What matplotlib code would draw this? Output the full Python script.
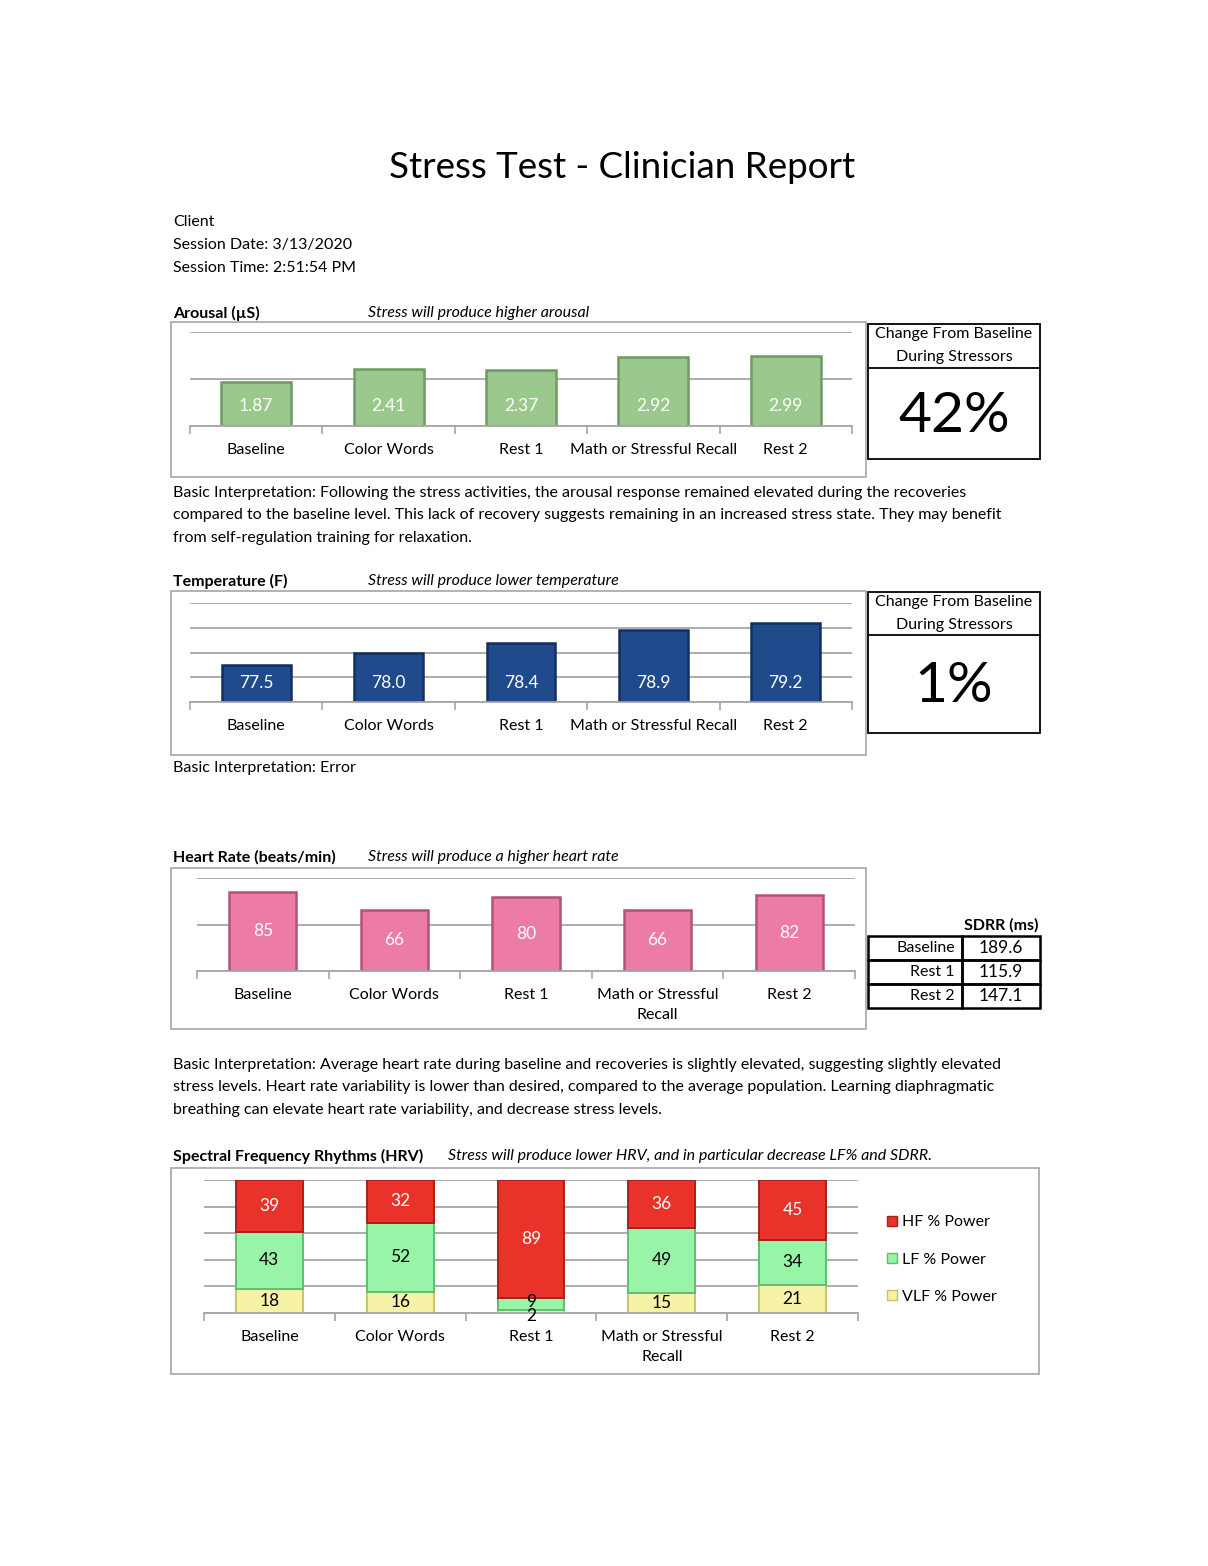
import matplotlib
matplotlib.use("Agg")
import matplotlib.pyplot as plt
from matplotlib.patches import Rectangle, Patch

plt.rcParams['font.family'] = ['Lato', 'DejaVu Sans']

W, H = 1208, 1566

# data
stages = ["Baseline", "Color Words", "Rest 1", "Math or Stressful Recall", "Rest 2"]
stages_wrapped = ["Baseline", "Color Words", "Rest 1", "Math or Stressful\nRecall", "Rest 2"]
arousal = [1.87, 2.41, 2.37, 2.92, 2.99]
temperature = [77.5, 78.0, 78.4, 78.9, 79.2]
heart_rate = [85, 66, 80, 66, 82]
vlf_pct = [18, 16, 2, 15, 21]
lf_pct = [43, 52, 9, 49, 34]
hf_pct = [39, 32, 89, 36, 45]
arousal_change = "42%"
temp_change = "1%"
sdrr_stages = ["Baseline", "Rest 1", "Rest 2"]
sdrr_values = [189.6, 115.9, 147.1]

GRID = "#a6a6a6"
FS = 11.5


def px_axes(x0, y0, x1, y1):
    return fig.add_axes([x0 / W, 1 - y1 / H, (x1 - x0) / W, (y1 - y0) / H])


def style_axes(ax, labels, ylim, step):
    n = len(labels)
    ax.set_xlim(-0.5, n - 0.5)
    ax.set_ylim(*ylim)
    ticks = []
    v = ylim[0]
    while v <= ylim[1] + 1e-9:
        ticks.append(v)
        v += step
    ax.set_yticks(ticks)
    ax.set_yticklabels([])
    ax.tick_params(axis='y', length=0)
    ax.grid(axis='y', color=GRID, linewidth=1.3)
    ax.set_axisbelow(True)
    for s in ['top', 'right', 'left']:
        ax.spines[s].set_visible(False)
    ax.spines['bottom'].set_color(GRID)
    ax.spines['bottom'].set_linewidth(1.3)
    ax.set_xticks(range(n))
    ax.set_xticklabels(labels, fontsize=FS, linespacing=1.6)
    ax.tick_params(axis='x', length=0, pad=12)
    ax.set_xticks([i - 0.5 for i in range(n + 1)], minor=True)
    ax.tick_params(axis='x', which='minor', length=6, color=GRID, width=1.2)
    ax.patch.set_alpha(0)


fig = plt.figure(figsize=(W / 100, H / 100), dpi=100)

# Arousal
ax1 = px_axes(190, 332, 852, 426)
ax1.bar(range(5), arousal, width=0.53, color="#9bc98d", edgecolor="#6f9a62", linewidth=1.8)
style_axes(ax1, stages, (0, 4), 2)
for i, v in enumerate(arousal):
    ax1.annotate(f"{v:.2f}", (i, 0), xytext=(0, 20), textcoords='offset pixels',
                 ha='center', va='center', color='white', fontsize=FS + 1)

# Temperature
ax2 = px_axes(190, 603, 852, 702)
ax2.bar(range(5), [t - 76 for t in temperature], bottom=76, width=0.52,
        color="#1f4a8c", edgecolor="#12305e", linewidth=1.8)
style_axes(ax2, stages, (76, 80), 1)
for i, v in enumerate(temperature):
    ax2.annotate(f"{v:.1f}", (i, 76), xytext=(0, 19), textcoords='offset pixels',
                 ha='center', va='center', color='white', fontsize=FS + 1)

# Heart rate
ax3 = px_axes(197, 878, 855, 971)
ax3.bar(range(5), heart_rate, width=0.51, color="#ec7ba6", edgecolor="#b0527a", linewidth=1.8)
style_axes(ax3, stages_wrapped, (0, 100), 50)
for i, v in enumerate(heart_rate):
    ax3.text(i, v / 2, str(v), ha='center', va='center', color='white', fontsize=FS + 1)

# HRV spectral
ax4 = px_axes(204, 1180, 858, 1313)
bot2 = [a + c for a, c in zip(vlf_pct, lf_pct)]
ax4.bar(range(5), vlf_pct, width=0.51, color="#f6f3a6", edgecolor="#c9c36a", linewidth=1.4)
ax4.bar(range(5), lf_pct, bottom=vlf_pct, width=0.51, color="#98f5a8", edgecolor="#5fbf70", linewidth=1.4)
ax4.bar(range(5), hf_pct, bottom=bot2, width=0.51, color="#e8322a", edgecolor="#a8201a", linewidth=1.4)
style_axes(ax4, stages_wrapped, (0, 100), 20)
for i in range(5):
    ax4.text(i, vlf_pct[i] / 2 if vlf_pct[i] > 5 else -2.5, str(vlf_pct[i]), ha='center', va='center',
             color='black', fontsize=FS + 1)
    ax4.text(i, vlf_pct[i] + lf_pct[i] / 2 + (1.5 if lf_pct[i] < 12 else 0), str(lf_pct[i]),
             ha='center', va='center', color='black', fontsize=FS + 1)
    ax4.text(i, bot2[i] + hf_pct[i] / 2, str(hf_pct[i]), ha='center', va='center',
             color='white', fontsize=FS + 1)
fig.legend(handles=[Patch(facecolor="#e8322a", edgecolor="#a8201a"),
                    Patch(facecolor="#98f5a8", edgecolor="#5fbf70"),
                    Patch(facecolor="#f6f3a6", edgecolor="#c9c36a")],
           labels=["HF % Power", "LF % Power", "VLF % Power"],
           loc='upper left', bbox_to_anchor=(873 / W, 1 - 1201 / H), frameon=False,
           fontsize=FS, handlelength=0.6, handleheight=0.6, handletextpad=0.3,
           labelspacing=1.45)

# overlay for text and frames
ov = fig.add_axes([0, 0, 1, 1])
ov.set_xlim(0, W)
ov.set_ylim(H, 0)
ov.axis('off')

ov.text(622, 167, "Stress Test - Clinician Report", ha='center', va='center', fontsize=26.5)
for k, line in enumerate(["Client", "Session Date: 3/13/2020", "Session Time: 2:51:54 PM"]):
    ov.text(173, 222 + 23 * k, line, ha='left', va='center', fontsize=FS)


def header(y, bold, italic, xi):
    ov.text(173, y, bold, ha='left', va='center', fontsize=FS, fontweight='bold')
    ov.text(xi, y, italic, ha='left', va='center', fontsize=FS, style='italic')


def para(y, lines):
    for k, line in enumerate(lines):
        ov.text(173, y + 22.5 * k, line, ha='left', va='center', fontsize=FS)


def frame(x0, y0, x1, y1, color="#a6a6a6", lw=1.2):
    ov.add_patch(Rectangle((x0, y0), x1 - x0, y1 - y0, fill=False, edgecolor=color, linewidth=lw))


def change_box(y0, ydiv, y1, big):
    ov.add_patch(Rectangle((868, y0), 172, y1 - y0, fill=False, edgecolor='black', linewidth=1.3))
    ov.plot([868, 1040], [ydiv, ydiv], color='black', linewidth=1.3)
    ov.text(954, y0 + 10, "Change From Baseline", ha='center', va='center', fontsize=FS)
    ov.text(954, y0 + 33, "During Stressors", ha='center', va='center', fontsize=FS)
    ov.text(954, (ydiv + y1) / 2 + 3, big, ha='center', va='center', fontsize=41)


header(313, "Arousal (µS)", "Stress will produce higher arousal", 368)
frame(171, 322, 866, 477)
change_box(324, 368, 459, arousal_change)
para(493, ["Basic Interpretation: Following the stress activities, the arousal response remained elevated during the recoveries",
           "compared to the baseline level. This lack of recovery suggests remaining in an increased stress state. They may benefit",
           "from self-regulation training for relaxation."])

header(581, "Temperature (F)", "Stress will produce lower temperature", 368)
frame(171, 591, 866, 755)
change_box(592, 635, 733, temp_change)
para(768, ["Basic Interpretation: Error"])

header(857, "Heart Rate (beats/min)", "Stress will produce a higher heart rate", 368)
frame(171, 868, 866, 1029)
ov.text(1038, 925, "SDRR (ms)", ha='right', va='center', fontsize=FS, fontweight='bold')
for k, (name, val) in enumerate(zip(sdrr_stages, sdrr_values)):
    y0 = 936 + 24 * k
    ov.add_patch(Rectangle((868, y0), 94, 24, fill=False, edgecolor='black', linewidth=1.8))
    ov.add_patch(Rectangle((962, y0), 78, 24, fill=False, edgecolor='black', linewidth=1.8))
    ov.text(955, y0 + 12, name, ha='right', va='center', fontsize=FS)
    ov.text(1001, y0 + 12, f"{val:.1f}", ha='center', va='center', fontsize=FS + 1)
para(1065, ["Basic Interpretation: Average heart rate during baseline and recoveries is slightly elevated, suggesting slightly elevated",
            "stress levels. Heart rate variability is lower than desired, compared to the average population. Learning diaphragmatic",
            "breathing can elevate heart rate variability, and decrease stress levels."])

header(1156, "Spectral Frequency Rhythms (HRV)", "Stress will produce lower HRV, and in particular decrease LF% and SDRR.", 448)
frame(171, 1168, 1039, 1374)

fig.savefig("out.png", dpi=100)
